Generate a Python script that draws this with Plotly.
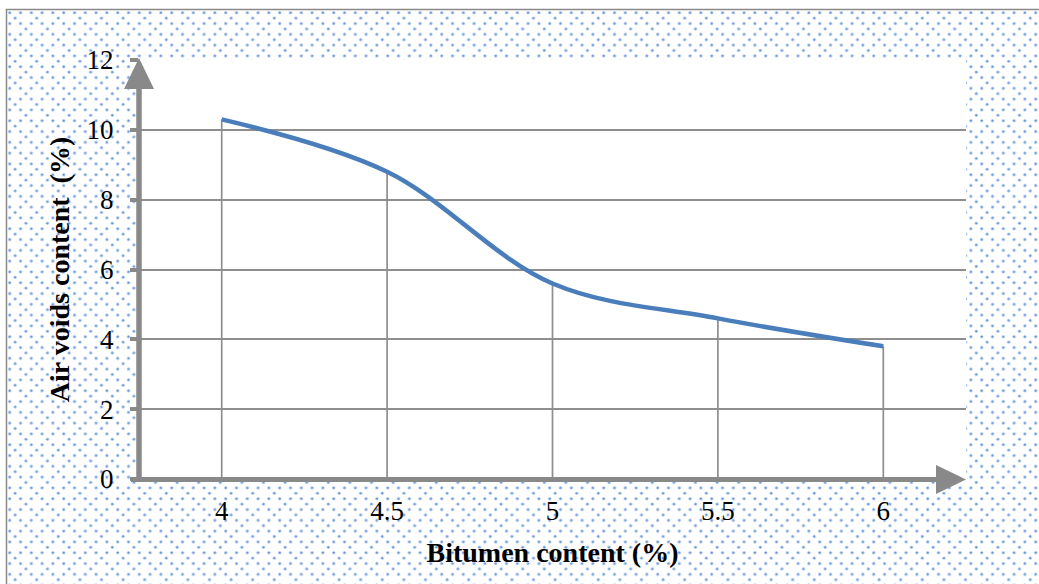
import base64
import plotly.graph_objects as go

# Marshall test results
bitumen_content = [4.0, 4.5, 5.0, 5.5, 6.0]          # %
air_voids = [10.3, 8.8, 5.6, 4.6, 3.8]               # %
y_ticks = [0, 2, 4, 6, 8, 10, 12]
x_ticks = [4, 4.5, 5, 5.5, 6]
x_tick_labels = ["4", "4.5", "5", "5.5", "6"]

W, H = 1039, 584
L, R, T, B = 139, 73, 60, 105
PW, PH = W - L - R, H - T - B

AXIS_GREY = "#898989"
GRID_GREY = "#8e8e8e"
LINE_BLUE = "#4a7ebb"
FONT = "Liberation Serif, Times New Roman, serif"


def fx(px):
    """pixel x -> paper x"""
    return (px - L) / PW


def fy(py):
    """pixel y (from top) -> paper y"""
    return (H - B - py) / PH


# dotted fill for the chart area
tile = 21.6
dots = [(2.7, 2.7), (13.5, 2.7), (2.7, 13.5), (13.5, 13.5), (8.1, 8.1), (18.9, 18.9)]
dot_svg = "".join(
    f'<circle cx="{cx}" cy="{cy}" r="1.8" fill="#c2d4f0"/>'
    f'<circle cx="{cx}" cy="{cy}" r="1.1" fill="#6390d2"/>'
    for cx, cy in dots
)
bg_w, bg_h = W - 7, H - 10
svg = (
    f'<svg xmlns="http://www.w3.org/2000/svg" width="{bg_w}" height="{bg_h}">'
    f'<defs><pattern id="p" width="{tile}" height="{tile}" patternUnits="userSpaceOnUse">'
    f'{dot_svg}</pattern></defs>'
    f'<rect width="{bg_w}" height="{bg_h}" fill="white"/>'
    f'<rect width="{bg_w}" height="{bg_h}" fill="url(#p)"/></svg>'
)
svg_uri = "data:image/svg+xml;base64," + base64.b64encode(svg.encode()).decode()

fig = go.Figure()

# drop lines from each point to the x axis
drop_x, drop_y = [], []
for xv, yv in zip(bitumen_content, air_voids):
    drop_x += [xv, xv, None]
    drop_y += [0, yv, None]
fig.add_trace(go.Scatter(
    x=drop_x, y=drop_y, mode="lines",
    line=dict(color=GRID_GREY, width=1.7),
    hoverinfo="skip", showlegend=False,
))

fig.add_trace(go.Scatter(
    x=bitumen_content, y=air_voids, mode="lines",
    line=dict(color=LINE_BLUE, width=4.5, shape="spline", smoothing=1),
    showlegend=False,
))

shapes = [
    # white plotting area
    dict(type="rect", xref="paper", yref="paper", x0=0, x1=1, y0=0, y1=1,
         fillcolor="white", line=dict(width=0), layer="below"),
    # outer frame
    dict(type="rect", xref="paper", yref="paper",
         x0=fx(6.5), x1=fx(W + 20), y0=fy(9.5), y1=fy(H + 20),
         line=dict(color=AXIS_GREY, width=1.5), fillcolor="rgba(0,0,0,0)", layer="above"),
    # y axis shaft and arrowhead
    dict(type="line", xref="paper", yref="paper",
         x0=fx(139), x1=fx(139), y0=fy(482), y1=fy(86),
         line=dict(color=AXIS_GREY, width=5.5), layer="above"),
    dict(type="path", xref="paper", yref="paper",
         path=f"M {fx(124)},{fy(89)} L {fx(139)},{fy(58)} L {fx(154)},{fy(89)} Z",
         fillcolor=AXIS_GREY, line=dict(width=0), layer="above"),
    # x axis shaft and arrowhead
    dict(type="line", xref="paper", yref="paper",
         x0=fx(131), x1=fx(938), y0=fy(479.5), y1=fy(479.5),
         line=dict(color=AXIS_GREY, width=5), layer="above"),
    dict(type="path", xref="paper", yref="paper",
         path=f"M {fx(936)},{fy(465)} L {fx(966)},{fy(479.5)} L {fx(936)},{fy(494)} Z",
         fillcolor=AXIS_GREY, line=dict(width=0), layer="above"),
]

fig.update_layout(
    width=W, height=H,
    margin=dict(l=L, r=R, t=T, b=B, autoexpand=False),
    paper_bgcolor="white",
    plot_bgcolor="white",
    font=dict(family=FONT, size=27, color="black"),
    shapes=shapes,
    images=[dict(
        source=svg_uri, xref="paper", yref="paper",
        x=fx(7), y=fy(10), sizex=bg_w / PW, sizey=bg_h / PH,
        xanchor="left", yanchor="top", sizing="stretch", layer="below",
    )],
    xaxis=dict(
        range=[3.75, 6.25],
        tickvals=x_ticks, ticktext=x_tick_labels,
        showgrid=False, zeroline=False, showline=False,
        ticks="", ticklabelstandoff=13,
        tickfont=dict(family=FONT, size=27, color="black"),
        title=dict(text="<b>Bitumen content (%)</b>", standoff=17,
                   font=dict(family=FONT, size=28, color="black")),
    ),
    yaxis=dict(
        range=[0, 12],
        tickvals=y_ticks,
        showgrid=True, gridcolor=GRID_GREY, gridwidth=1.7,
        zeroline=False, showline=False,
        ticks="outside", ticklen=8, tickwidth=4, tickcolor=AXIS_GREY,
        ticklabelstandoff=11,
        tickfont=dict(family=FONT, size=27, color="black"),
        title=dict(text="<b>Air voids content \u00a0(%)</b>", standoff=8,
                   font=dict(family=FONT, size=28, color="black")),
    ),
)

fig.write_html("out.html")
